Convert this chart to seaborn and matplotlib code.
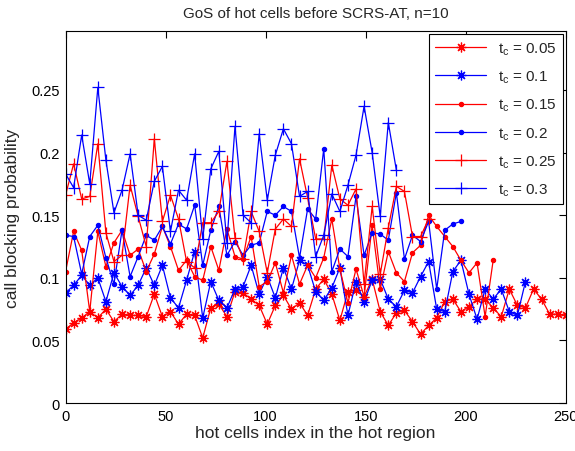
import matplotlib
matplotlib.use('Agg')
import matplotlib.pyplot as plt
import numpy as np
import pandas as pd
import seaborn as sns

# call blocking probability per hot cell, one list per t_c value
tc_005 = [0.059, 0.064, 0.068, 0.073, 0.068, 0.075, 0.065, 0.071, 0.070, 0.070,
          0.069, 0.087, 0.069, 0.073, 0.063, 0.071, 0.070, 0.052, 0.076, 0.079,
          0.069, 0.089, 0.088, 0.083, 0.078, 0.063, 0.078, 0.086, 0.075, 0.080,
          0.070, 0.091, 0.099, 0.087, 0.066, 0.089, 0.090, 0.085, 0.099, 0.073,
          0.062, 0.072, 0.074, 0.065, 0.055, 0.062, 0.068, 0.081, 0.083, 0.073,
          0.077, 0.083, 0.083, 0.076, 0.069, 0.091, 0.078, 0.076, 0.091, 0.083,
          0.071, 0.071, 0.070]
tc_010 = [0.088, 0.094, 0.102, 0.094, 0.100, 0.081, 0.104, 0.093, 0.086, 0.094,
          0.108, 0.094, 0.110, 0.084, 0.076, 0.098, 0.121, 0.068, 0.097, 0.082,
          0.076, 0.091, 0.093, 0.110, 0.087, 0.101, 0.084, 0.108, 0.091, 0.114,
          0.110, 0.089, 0.082, 0.092, 0.108, 0.070, 0.097, 0.081, 0.098, 0.099,
          0.083, 0.077, 0.090, 0.088, 0.101, 0.113, 0.075, 0.073, 0.105, 0.114,
          0.087, 0.067, 0.091, 0.083, 0.091, 0.073, 0.070, 0.097]
tc_015 = [0.105, 0.137, 0.122, 0.073, 0.137, 0.109, 0.128, 0.138, 0.118, 0.123,
          0.105, 0.119, 0.141, 0.125, 0.106, 0.114, 0.101, 0.098, 0.125, 0.106,
          0.139, 0.117, 0.115, 0.133, 0.093, 0.097, 0.112, 0.088, 0.118, 0.095,
          0.110, 0.100, 0.116, 0.147, 0.107, 0.080, 0.107, 0.085, 0.142, 0.091,
          0.121, 0.104, 0.097, 0.120, 0.126, 0.150, 0.141, 0.133, 0.125, 0.114,
          0.104, 0.112, 0.069, 0.114]
tc_020 = [0.134, 0.133, 0.103, 0.133, 0.142, 0.116, 0.095, 0.138, 0.101, 0.117,
          0.134, 0.130, 0.141, 0.127, 0.143, 0.139, 0.158, 0.110, 0.138, 0.157,
          0.118, 0.129, 0.118, 0.126, 0.128, 0.153, 0.150, 0.157, 0.153, 0.116,
          0.155, 0.147, 0.203, 0.105, 0.123, 0.117, 0.165, 0.118, 0.136, 0.135,
          0.130, 0.168, 0.115, 0.134, 0.129, 0.145, 0.091, 0.138, 0.143, 0.145]
tc_025 = [0.166, 0.191, 0.163, 0.165, 0.207, 0.136, 0.113, 0.118, 0.174, 0.149,
          0.125, 0.211, 0.145, 0.166, 0.147, 0.113, 0.108, 0.144, 0.144, 0.153,
          0.193, 0.132, 0.115, 0.153, 0.137, 0.104, 0.139, 0.147, 0.141, 0.195,
          0.164, 0.131, 0.131, 0.190, 0.163, 0.158, 0.171, 0.095, 0.157, 0.103,
          0.140, 0.173, 0.169, 0.133, 0.133, 0.147]
tc_030 = [0.183, 0.172, 0.214, 0.175, 0.252, 0.194, 0.152, 0.170, 0.199, 0.150,
          0.146, 0.177, 0.189, 0.137, 0.170, 0.162, 0.199, 0.131, 0.187, 0.201,
          0.128, 0.221, 0.150, 0.144, 0.215, 0.162, 0.198, 0.219, 0.207, 0.165,
          0.169, 0.117, 0.134, 0.167, 0.153, 0.174, 0.198, 0.237, 0.200, 0.149,
          0.224, 0.186]

series = [tc_005, tc_010, tc_015, tc_020, tc_025, tc_030]
labels = [r'$t_c$ = 0.05', r'$t_c$ = 0.1', r'$t_c$ = 0.15',
          r'$t_c$ = 0.2', r'$t_c$ = 0.25', r'$t_c$ = 0.3']
x_step = 250 / 62  # spacing of the plotted hot-cell indices

xticks = [0, 50, 100, 150, 200, 250]
yticks = [0, 0.05, 0.1, 0.15, 0.2, 0.25]
ytick_labels = ['0', '0.05', '0.1', '0.15', '0.2', '0.25']

# styles
colors = ['#ff0000', '#0000ff', '#ff0000', '#0000ff', '#ff0000', '#0000ff']
markers = [(8, 2, 0), (8, 2, 0), '.', '.', '+', '+']
msizes = [7, 7, 6, 6, 9, 9]

sns.set_style('white')
plt.rcParams['font.family'] = ['Liberation Sans', 'DejaVu Sans']
plt.rcParams['mathtext.default'] = 'regular'
plt.rcParams['font.size'] = 10

fig = plt.figure(figsize=(5.75, 4.52), dpi=100)
ax = fig.add_axes([0.114, 0.106, 0.870, 0.823])

for vals, lab, c, m, ms in zip(series, labels, colors, markers, msizes):
    df = pd.DataFrame({'x': np.arange(len(vals)) * x_step, 'y': vals})
    sns.lineplot(data=df, x='x', y='y', ax=ax, color=c, marker=m,
                 markersize=ms, markeredgecolor=c, markerfacecolor=c,
                 markeredgewidth=0.9, linewidth=0.9, label=lab, legend=False)

ax.set_xlim(0, 250)
ax.set_ylim(0, 0.297)
ax.set_xticks(xticks)
ax.set_yticks(yticks)
ax.set_yticklabels(ytick_labels)
ax.tick_params(direction='in', top=True, right=True, length=5, width=0.8,
               labelsize=10.5, colors='black', pad=4)
for s in ax.spines.values():
    s.set_color('black')
    s.set_linewidth(0.8)

ax.set_title('GoS of hot cells before SCRS-AT, n=10', fontsize=11, pad=10)
ax.set_xlabel('hot cells index in the hot region', fontsize=12.5, labelpad=2)
ax.set_ylabel('call blocking probability', fontsize=12.5, labelpad=8)

leg = ax.legend(loc='upper right', fancybox=False, edgecolor='black',
                framealpha=1, numpoints=1, handlelength=3.3,
                labelspacing=0.78, borderaxespad=0.2, fontsize=11)
leg.get_frame().set_linewidth(0.8)

fig.savefig('out.png', dpi=100, facecolor='white')
